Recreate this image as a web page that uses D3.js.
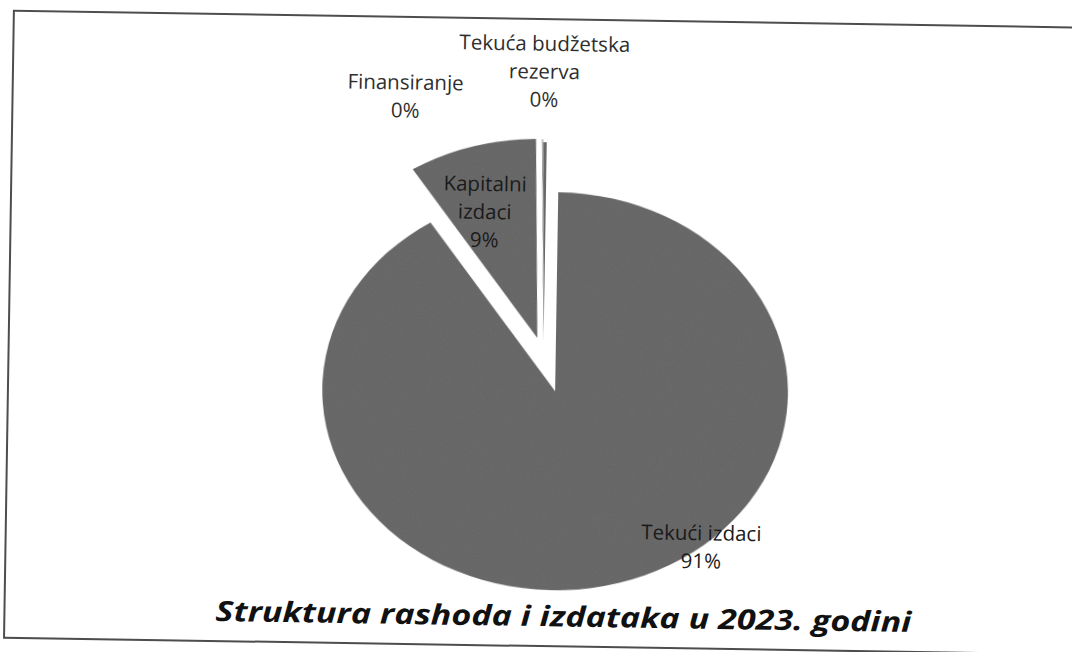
<!DOCTYPE html>
<html>
<head>
<meta charset="utf-8">
<script src="https://cdn.jsdelivr.net/npm/d3@7"></script>
<style>
  html, body { margin: 0; padding: 0; background: #fff; }
  svg { display: block; }
</style>
</head>
<body>
<svg id="chart" width="1072" height="652"></svg>
<script>
// slice names and shares (%), in drawing order, clockwise from 12 o'clock
const categories = ["Tekući izdaci", "Kapitalni izdaci", "Finansiranje", "Tekuća budžetska rezerva"];
const values = [90.8, 8.9, 0.05, 0.25];
const percentLabels = ["91%", "9%", "0%", "0%"];
// label text broken into lines as they appear on the chart
const labelLines = [["Tekući izdaci", "91%"], ["Kapitalni", "izdaci", "9%"], ["Finansiranje", "0%"], ["Tekuća budžetska", "rezerva", "0%"]];
const title = "Struktura rashoda i izdataka u 2023. godini";

// how far each slice is pulled out (fraction of radius)
const explode = [0.183, 0.095, 0.09, 0.075];
// label placement: radius fraction along the slice mid-angle, then a nudge in px
const labelLayout = [
  {r: 0.7, dx: 102, dy: 20, inside: true},
  {r: 0.68, dx: -8, dy: 4, inside: true},
  {r: 1.2, dx: -137, dy: -1, inside: false},
  {r: 1.35, dx: -1, dy: -1, inside: false}
];

const svg = d3.select("#chart");

// grainy look of the scanned print
const defs = svg.append("defs");
const grain = defs.append("filter").attr("id", "grain")
  .attr("x", 0).attr("y", 0).attr("width", 1).attr("height", 1);
grain.append("feTurbulence")
  .attr("type", "fractalNoise").attr("baseFrequency", 0.9)
  .attr("numOctaves", 2).attr("seed", 3).attr("result", "noise");
grain.append("feColorMatrix").attr("in", "noise").attr("type", "matrix")
  .attr("values", "0 0 0 0 0.5  0 0 0 0 0.5  0 0 0 0 0.5  0 0 0 0.35 0")
  .attr("result", "tint");
grain.append("feComposite").attr("in", "tint").attr("in2", "SourceGraphic")
  .attr("operator", "in").attr("result", "dots");
grain.append("feBlend").attr("in", "dots").attr("in2", "SourceGraphic").attr("mode", "multiply");

// the whole scanned page is turned a little clockwise
const page = svg.append("g").attr("transform", "rotate(0.9, 536, 326)");

page.append("rect")
  .attr("x", 9).attr("y", 19)
  .attr("width", 1100).attr("height", 627)
  .attr("fill", "none")
  .attr("stroke", "#4d4d4d")
  .attr("stroke-width", 2);

const cx = 544, cy = 356;
const R = 199;        // vertical radius
const sx = 1.17;      // the scan is stretched horizontally

const pie = d3.pie().sort(null).value(d => d);
const arcs = pie(values);
const arc = d3.arc().innerRadius(0).outerRadius(R);

const g = page.append("g")
  .attr("transform", `translate(${cx},${cy}) scale(${sx},1)`);

function midAngle(d) { return (d.startAngle + d.endAngle) / 2; }

g.selectAll("path.slice")
  .data(arcs)
  .join("path")
  .attr("class", "slice")
  .attr("d", arc)
  .attr("fill", "#6c6c6c")
  .attr("filter", "url(#grain)")
  .attr("transform", (d, i) => {
    const a = midAngle(d), e = explode[i] * R;
    return `translate(${e * Math.sin(a)},${-e * Math.cos(a)})`;
  });

// labels
const lineH = 28;
page.selectAll("text.lbl")
  .data(arcs)
  .join("text")
  .attr("class", "lbl")
  .attr("text-anchor", "middle")
  .style("font-family", "'Open Sans', 'Noto Sans', sans-serif")
  .style("font-size", "20.5px")
  .attr("fill", (d, i) => labelLayout[i].inside ? "#1a1a1a" : "#2e2e2e")
  .each(function (d, i) {
    const a = midAngle(d);
    const L = labelLayout[i];
    const rr = (explode[i] + L.r) * R;
    const x = cx + sx * rr * Math.sin(a) + L.dx;
    const y = cy - rr * Math.cos(a) + L.dy;
    const lines = labelLines[i];
    const t = d3.select(this);
    lines.forEach((s, k) => {
      t.append("tspan")
        .attr("x", x)
        .attr("y", y + (k - (lines.length - 1) / 2) * lineH)
        .attr("dy", "0.35em")
        .text(s);
    });
  });

// title
page.append("text")
  .attr("x", 568)
  .attr("y", 626)
  .attr("text-anchor", "middle")
  .attr("textLength", 696)
  .attr("lengthAdjust", "spacingAndGlyphs")
  .style("font-family", "'Open Sans', 'Noto Sans', sans-serif")
  .style("font-size", "28px")
  .style("font-weight", "bold")
  .style("font-style", "italic")
  .attr("fill", "#111")
  .text(title);
</script>
</body>
</html>
